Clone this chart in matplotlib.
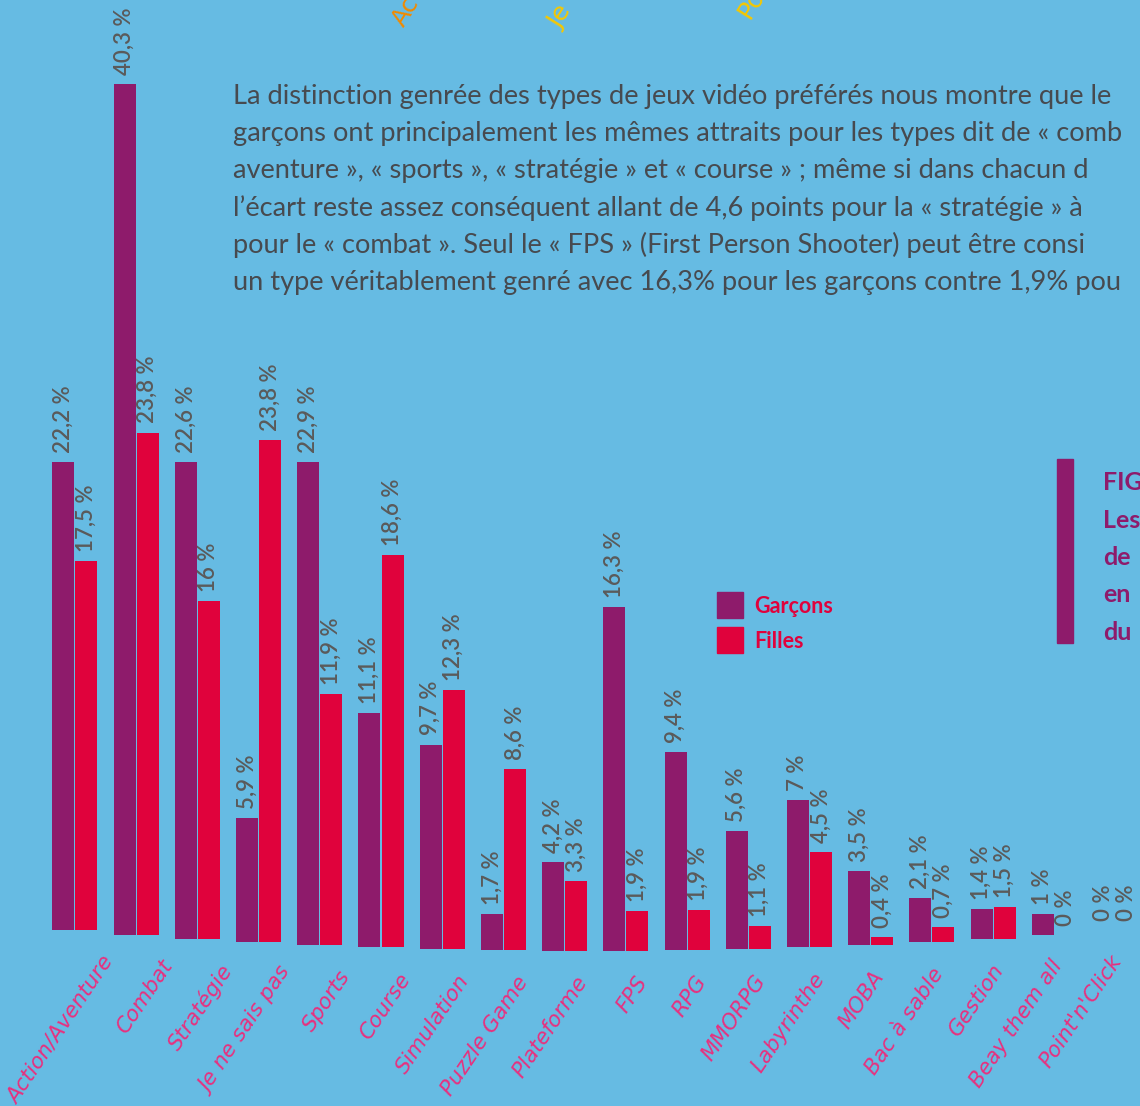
import matplotlib
matplotlib.use("Agg")
import matplotlib.pyplot as plt
import numpy as np

# ---------------- data ----------------
categories = ["Action/Aventure", "Combat", "Stratégie", "Je ne sais pas", "Sports",
              "Course", "Simulation", "Puzzle Game", "Plateforme", "FPS", "RPG",
              "MMORPG", "Labyrinthe", "MOBA", "Bac à sable", "Gestion",
              "Beay them all", "Point'n'Click"]
garcons = [22.2, 40.3, 22.6, 5.9, 22.9, 11.1, 9.7, 1.7, 4.2, 16.3, 9.4, 5.6, 7.0, 3.5, 2.1, 1.4, 1.0, 0.0]
filles = [17.5, 23.8, 16.0, 23.8, 11.9, 18.6, 12.3, 8.6, 3.3, 1.9, 1.9, 1.1, 4.5, 0.4, 0.7, 1.5, 0.0, 0.0]
series_names = ["Garçons", "Filles"]

# visible part of the (cropped) page text
paragraph = [
    "La distinction genrée des types de jeux vidéo préférés nous montre que le",
    "garçons ont principalement les mêmes attraits pour les types dit de « comb",
    "aventure », « sports », « stratégie » et « course » ; même si dans chacun d",
    "l’écart reste assez conséquent allant de 4,6 points pour la « stratégie » à",
    "pour le « combat ». Seul le « FPS » (First Person Shooter) peut être consi",
    "un type véritablement genré avec 16,3% pour les garçons contre 1,9% pou",
]
caption = ["FIG", "Les", "de", "en", "du"]
top_fragments = ["Ac", "Je", "Po"]

# ---------------- style ----------------
BG = "#66bbe3"
PURPLE = "#8e1b6b"
RED = "#e0023c"
PINK = "#e8307e"
GREY = "#5a5a5a"
TEXT = "#474a4f"

W, H = 1140, 1106
fig = plt.figure(figsize=(W / 100, H / 100), dpi=100)
fig.patch.set_facecolor(BG)

# chart axes: x = category index, y = percent
step = 61.2          # px per category
x0 = 75              # px of first group centre
scale = 21.1         # px per percent
base_px = 951        # px of baseline at the centre
ax = fig.add_axes([0, 0, 1, 1])
ax.set_facecolor(BG)
ax.set_xlim(-x0 / step, (W - x0) / step)
ax.set_ylim((base_px - H) / scale, base_px / scale)
ax.axis("off")

n = len(categories)
idx = np.arange(n)
# gently curved baseline (page curvature)
base = 0.29 * (idx - 8.5) ** 2 / scale
bw = 22 / step
off = 11.5 / step

ax.bar(idx - off, garcons, width=bw, bottom=base, color=PURPLE, linewidth=0)
ax.bar(idx + off, filles, width=bw, bottom=base, color=RED, linewidth=0)

def fmt(v):
    return f"{v:g}".replace(".", ",") + " %"

for i in range(n):
    for xx, v in ((idx[i] - off, garcons[i]), (idx[i] + off, filles[i])):
        ax.annotate(fmt(v), xy=(xx, base[i] + v), xytext=(0, 6.5), textcoords="offset points",
                    rotation=90, ha="center", va="bottom", color=GREY,
                    fontsize=16, fontfamily="Lato", fontweight="semibold")

# category labels
for i in range(n):
    dx = (26 - 1.9 * i) / step
    ax.text(idx[i] + dx, base[i] - 22 / scale, categories[i], rotation=56,
            rotation_mode="anchor", ha="right", va="top", color=PINK,
            fontsize=15.5, fontfamily="DejaVu Sans", fontstyle="oblique")

# legend
def px(xp, yp):
    return xp / W, 1 - yp / H

for k, (name, col) in enumerate(zip(series_names, [PURPLE, RED])):
    y = 592 + 35 * k
    fig.patches.append(plt.Rectangle(px(717, y + 26), 26 / W, 26 / H, color=col,
                                     transform=fig.transFigure, figure=fig))
    fig.text(*px(754, y + 21), name, color=RED, fontsize=15.5, fontfamily="Lato",
             fontweight="bold", va="baseline", ha="left")

# paragraph
for k, line in enumerate(paragraph):
    fig.text(*px(233, 104 + 37.2 * k), line, color=TEXT, fontsize=19.6,
             fontfamily="Lato", va="baseline", ha="left")

# caption on the right
fig.patches.append(plt.Rectangle(px(1057, 643), 16 / W, 184 / H, color=PURPLE,
                                 transform=fig.transFigure, figure=fig))
for k, line in enumerate(caption):
    fig.text(*px(1103, 490 + 37.5 * k), line, color=PURPLE, fontsize=18,
             fontfamily="Lato", fontweight="bold", va="baseline", ha="left")

# partially visible labels of the previous chart at the very top
for (xp, yp, word, col) in zip([404, 560, 750], [28, 30, 20], top_fragments,
                               ["#f28a00", "#f6c800", "#f6c800"]):
    fig.text(*px(xp, yp), word, color=col, fontsize=18, fontfamily="DejaVu Sans",
             rotation=58, rotation_mode="anchor", ha="left", va="baseline")

fig.savefig("out.png", dpi=100, facecolor=BG)
